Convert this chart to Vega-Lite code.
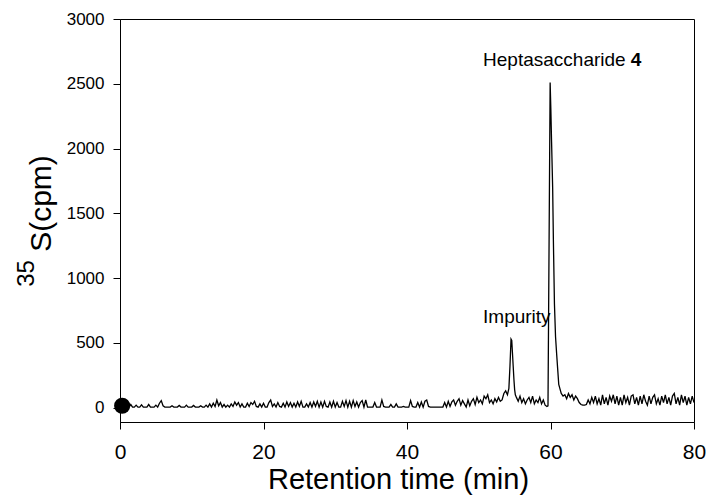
{
  "$schema": "https://vega.github.io/schema/vega-lite/v6.json",
  "width": 574,
  "height": 403,
  "autosize": "none",
  "padding": {"left": 120, "top": 19, "right": 18, "bottom": 81},
  "background": "white",
  "config": {
    "font": "Liberation Sans",
    "view": {"stroke": "black", "strokeWidth": 1},
    "axis": {"grid": false, "domainColor": "black", "tickColor": "black", "labelColor": "black", "titleColor": "black", "titleFontWeight": "normal", "tickWidth": 1, "domainWidth": 1}
  },
  "title": {"text": "35", "orient": "left", "fontSize": 24, "fontWeight": "normal", "color": "black", "offset": -13, "dx": -53},
  "datasets": {
    "trace": [
      {"t":0,"c":20},{"t":0.25,"c":25},{"t":0.5,"c":15},{"t":0.75,"c":8},{"t":1,"c":5},{"t":1.25,"c":5},{"t":1.5,"c":25},{"t":1.75,"c":5},{"t":2,"c":5},{"t":2.25,"c":20},{"t":2.5,"c":5},{"t":2.75,"c":5},{"t":3,"c":22},{"t":3.25,"c":5},{"t":3.5,"c":5},{"t":3.75,"c":5},{"t":4,"c":25},{"t":4.25,"c":5},{"t":4.5,"c":5},{"t":4.75,"c":5},{"t":5,"c":20},{"t":5.25,"c":5},{"t":5.5,"c":35},{"t":5.75,"c":55},{"t":6,"c":15},{"t":6.25,"c":5},{"t":6.5,"c":5},{"t":6.75,"c":5},{"t":7,"c":5},{"t":7.25,"c":15},{"t":7.5,"c":5},{"t":7.75,"c":5},{"t":8,"c":5},{"t":8.25,"c":18},{"t":8.5,"c":5},{"t":8.75,"c":5},{"t":9,"c":5},{"t":9.25,"c":20},{"t":9.5,"c":5},{"t":9.75,"c":5},
      {"t":10,"c":5},{"t":10.25,"c":18},{"t":10.5,"c":5},{"t":10.75,"c":5},{"t":11,"c":5},{"t":11.25,"c":15},{"t":11.5,"c":5},{"t":11.75,"c":5},{"t":12,"c":20},{"t":12.25,"c":5},{"t":12.5,"c":30},{"t":12.75,"c":5},{"t":13,"c":35},{"t":13.25,"c":10},{"t":13.5,"c":60},{"t":13.75,"c":15},{"t":14,"c":40},{"t":14.25,"c":5},{"t":14.5,"c":25},{"t":14.75,"c":5},{"t":15,"c":20},{"t":15.25,"c":5},{"t":15.5,"c":30},{"t":15.75,"c":10},{"t":16,"c":45},{"t":16.25,"c":20},{"t":16.5,"c":40},{"t":16.75,"c":5},{"t":17,"c":30},{"t":17.25,"c":5},{"t":17.5,"c":5},{"t":17.75,"c":35},{"t":18,"c":10},{"t":18.25,"c":40},{"t":18.5,"c":25},{"t":18.75,"c":50},{"t":19,"c":10},{"t":19.25,"c":5},{"t":19.5,"c":30},{"t":19.75,"c":5},
      {"t":20,"c":35},{"t":20.25,"c":5},{"t":20.5,"c":5},{"t":20.75,"c":40},{"t":21,"c":60},{"t":21.25,"c":10},{"t":21.5,"c":30},{"t":21.75,"c":5},{"t":22,"c":40},{"t":22.25,"c":10},{"t":22.5,"c":5},{"t":22.75,"c":35},{"t":23,"c":5},{"t":23.25,"c":45},{"t":23.5,"c":10},{"t":23.75,"c":40},{"t":24,"c":5},{"t":24.25,"c":35},{"t":24.5,"c":5},{"t":24.75,"c":45},{"t":25,"c":10},{"t":25.25,"c":50},{"t":25.5,"c":5},{"t":25.75,"c":5},{"t":26,"c":30},{"t":26.25,"c":5},{"t":26.5,"c":40},{"t":26.75,"c":5},{"t":27,"c":45},{"t":27.25,"c":10},{"t":27.5,"c":50},{"t":27.75,"c":5},{"t":28,"c":45},{"t":28.25,"c":5},{"t":28.5,"c":50},{"t":28.75,"c":10},{"t":29,"c":5},{"t":29.25,"c":45},{"t":29.5,"c":5},{"t":29.75,"c":50},
      {"t":30,"c":5},{"t":30.25,"c":40},{"t":30.5,"c":5},{"t":30.75,"c":5},{"t":31,"c":50},{"t":31.25,"c":10},{"t":31.5,"c":55},{"t":31.75,"c":5},{"t":32,"c":50},{"t":32.25,"c":5},{"t":32.5,"c":55},{"t":32.75,"c":10},{"t":33,"c":45},{"t":33.25,"c":5},{"t":33.5,"c":40},{"t":33.75,"c":55},{"t":34,"c":5},{"t":34.25,"c":60},{"t":34.5,"c":5},{"t":34.75,"c":5},{"t":35,"c":5},{"t":35.25,"c":5},{"t":35.5,"c":40},{"t":35.75,"c":5},{"t":36,"c":5},{"t":36.25,"c":5},{"t":36.5,"c":60},{"t":36.75,"c":10},{"t":37,"c":5},{"t":37.25,"c":5},{"t":37.5,"c":5},{"t":37.75,"c":25},{"t":38,"c":5},{"t":38.25,"c":5},{"t":38.5,"c":30},{"t":38.75,"c":5},{"t":39,"c":5},{"t":39.25,"c":5},{"t":39.5,"c":10},{"t":39.75,"c":5},
      {"t":40,"c":5},{"t":40.25,"c":5},{"t":40.5,"c":55},{"t":40.75,"c":10},{"t":41,"c":5},{"t":41.25,"c":5},{"t":41.5,"c":40},{"t":41.75,"c":5},{"t":42,"c":45},{"t":42.25,"c":5},{"t":42.5,"c":50},{"t":42.75,"c":60},{"t":43,"c":10},{"t":43.25,"c":5},{"t":43.5,"c":5},{"t":43.75,"c":5},{"t":44,"c":5},{"t":44.25,"c":5},{"t":44.5,"c":5},{"t":44.75,"c":5},{"t":45,"c":5},{"t":45.25,"c":40},{"t":45.5,"c":5},{"t":45.75,"c":50},{"t":46,"c":10},{"t":46.25,"c":45},{"t":46.5,"c":60},{"t":46.75,"c":20},{"t":47,"c":50},{"t":47.25,"c":70},{"t":47.5,"c":20},{"t":47.75,"c":55},{"t":48,"c":30},{"t":48.25,"c":5},{"t":48.5,"c":60},{"t":48.75,"c":15},{"t":49,"c":50},{"t":49.25,"c":70},{"t":49.5,"c":25},{"t":49.75,"c":80},
      {"t":50,"c":40},{"t":50.25,"c":60},{"t":50.5,"c":30},{"t":50.75,"c":90},{"t":51,"c":70},{"t":51.25,"c":100},{"t":51.5,"c":40},{"t":51.75,"c":60},{"t":52,"c":30},{"t":52.25,"c":70},{"t":52.5,"c":45},{"t":52.75,"c":80},{"t":53,"c":50},{"t":53.25,"c":60},{"t":53.5,"c":110},{"t":53.75,"c":130},{"t":54,"c":100},{"t":54.2,"c":150},{"t":54.35,"c":320},{"t":54.5,"c":530},{"t":54.6,"c":520},{"t":54.7,"c":420},{"t":54.8,"c":320},{"t":54.9,"c":220},{"t":55,"c":140},{"t":55.1,"c":100},{"t":55.25,"c":80},{"t":55.5,"c":50},{"t":55.75,"c":90},{"t":56,"c":40},{"t":56.25,"c":70},{"t":56.5,"c":30},{"t":56.75,"c":60},{"t":57,"c":80},{"t":57.25,"c":40},{"t":57.5,"c":90},{"t":57.75,"c":30},{"t":58,"c":60},{"t":58.25,"c":40},{"t":58.5,"c":80},{"t":58.75,"c":30},{"t":59,"c":60},{"t":59.25,"c":20},{"t":59.5,"c":10},{"t":59.65,"c":15},
      {"t":59.95,"c":2510},{"t":60.05,"c":2300},{"t":60.15,"c":2050},{"t":60.3,"c":1700},{"t":60.4,"c":1300},{"t":60.55,"c":800},{"t":60.7,"c":550},{"t":60.85,"c":420},{"t":61,"c":300},{"t":61.15,"c":180},{"t":61.3,"c":150},{"t":61.5,"c":110},{"t":61.75,"c":90},{"t":62,"c":100},{"t":62.25,"c":70},{"t":62.5,"c":110},{"t":62.75,"c":80},{"t":63,"c":100},{"t":63.25,"c":60},{"t":63.5,"c":90},{"t":63.75,"c":70},{"t":64,"c":40},{"t":64.25,"c":25},{"t":64.5,"c":20},{"t":64.75,"c":20},{"t":65,"c":25},{"t":65.25,"c":60},{"t":65.5,"c":30},{"t":65.75,"c":80},{"t":66,"c":40},{"t":66.25,"c":90},{"t":66.5,"c":30},{"t":66.75,"c":70},{"t":67,"c":20},{"t":67.25,"c":100},{"t":67.5,"c":30},{"t":67.75,"c":80},{"t":68,"c":20},{"t":68.25,"c":90},{"t":68.5,"c":50},{"t":68.75,"c":100},{"t":69,"c":30},{"t":69.25,"c":90},{"t":69.5,"c":20},{"t":69.75,"c":80},
      {"t":70,"c":20},{"t":70.25,"c":100},{"t":70.5,"c":40},{"t":70.75,"c":80},{"t":71,"c":20},{"t":71.25,"c":90},{"t":71.5,"c":100},{"t":71.75,"c":30},{"t":72,"c":80},{"t":72.25,"c":20},{"t":72.5,"c":90},{"t":72.75,"c":30},{"t":73,"c":100},{"t":73.25,"c":50},{"t":73.5,"c":20},{"t":73.75,"c":90},{"t":74,"c":30},{"t":74.25,"c":80},{"t":74.5,"c":100},{"t":74.75,"c":30},{"t":75,"c":70},{"t":75.25,"c":20},{"t":75.5,"c":90},{"t":75.75,"c":40},{"t":76,"c":100},{"t":76.25,"c":30},{"t":76.5,"c":80},{"t":76.75,"c":20},{"t":77,"c":90},{"t":77.25,"c":110},{"t":77.5,"c":30},{"t":77.75,"c":80},{"t":78,"c":20},{"t":78.25,"c":100},{"t":78.5,"c":40},{"t":78.75,"c":90},{"t":79,"c":20},{"t":79.25,"c":80},{"t":79.5,"c":30},{"t":79.75,"c":90},{"t":80,"c":40}
    ],
    "marker": [{"t": 0.3, "c": 15}],
    "labels": [
      {"t": 50.6, "c": 2637, "label": "Heptasaccharide"},
      {"t": 50.6, "c": 654, "label": "Impurity"}
    ],
    "boldlabels": [
      {"t": 71.2, "c": 2637, "label": "4"}
    ]
  },
  "layer": [
    {
      "data": {"name": "trace"},
      "mark": {"type": "line", "color": "black", "strokeWidth": 1.3, "clip": true},
      "encoding": {
        "x": {"field": "t", "type": "quantitative", "scale": {"domain": [0, 80], "nice": false, "zero": false},
          "axis": {"title": "Retention time (min)", "values": [0, 20, 40, 60, 80], "labelFontSize": 21, "titleFontSize": 29, "tickSize": 7, "labelPadding": 12, "titleX": 278, "titleY": 66, "titleBaseline": "alphabetic", "titleAlign": "center", "labelFlush": false}},
        "y": {"field": "c", "type": "quantitative", "scale": {"domain": [-110, 3000], "nice": false, "zero": false},
          "axis": {"title": "S(cpm)", "format": "d", "values": [0, 500, 1000, 1500, 2000, 2500, 3000], "labelFontSize": 17, "titleFontSize": 30, "tickSize": 7, "labelPadding": 9, "titleX": -70, "titleY": 184, "titleAngle": -90, "titleBaseline": "alphabetic", "titleAlign": "center"}}
      }
    },
    {
      "data": {"name": "marker"},
      "mark": {"type": "point", "filled": true, "color": "black", "size": 260, "opacity": 1, "shape": "circle"},
      "encoding": {
        "x": {"field": "t", "type": "quantitative"},
        "y": {"field": "c", "type": "quantitative"}
      }
    },
    {
      "data": {"name": "labels"},
      "mark": {"type": "text", "align": "left", "baseline": "alphabetic", "fontSize": 19, "color": "black"},
      "encoding": {
        "x": {"field": "t", "type": "quantitative"},
        "y": {"field": "c", "type": "quantitative"},
        "text": {"field": "label"}
      }
    },
    {
      "data": {"name": "boldlabels"},
      "mark": {"type": "text", "align": "left", "baseline": "alphabetic", "fontSize": 19, "fontWeight": "bold", "color": "black"},
      "encoding": {
        "x": {"field": "t", "type": "quantitative"},
        "y": {"field": "c", "type": "quantitative"},
        "text": {"field": "label"}
      }
    }
  ]
}
